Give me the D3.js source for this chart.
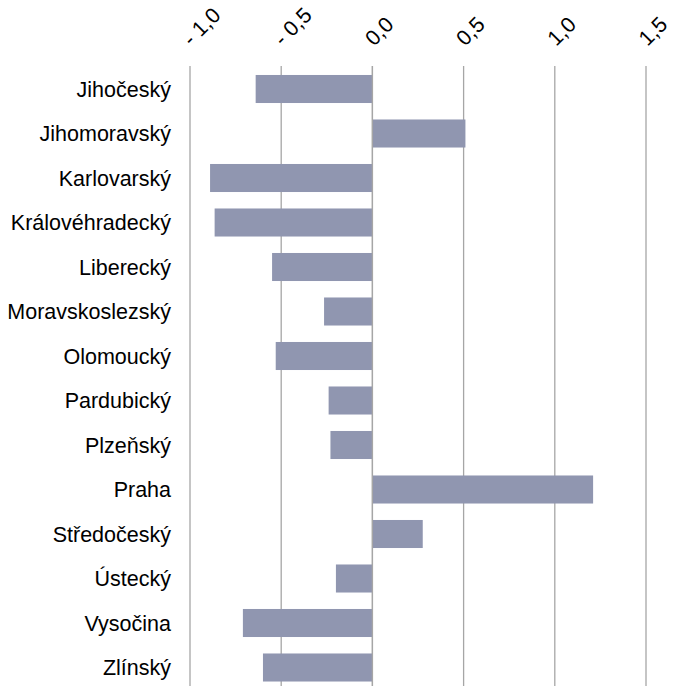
<!DOCTYPE html>
<html>
<head>
<meta charset="utf-8">
<script src="https://cdn.jsdelivr.net/npm/d3@7"></script>
<style>
  html, body { margin: 0; padding: 0; background: #fff; }
  svg { display: block; }
</style>
</head>
<body>
<svg id="chart" width="673" height="686"></svg>
<script>
const regions = ["Jihočeský", "Jihomoravský", "Karlovarský", "Královéhradecký", "Liberecký",
  "Moravskoslezský", "Olomoucký", "Pardubický", "Plzeňský", "Praha", "Středočeský",
  "Ústecký", "Vysočina", "Zlínský"];
const values = [-0.64, 0.51, -0.89, -0.865, -0.55, -0.265, -0.53, -0.24, -0.23, 1.21, 0.276,
  -0.20, -0.71, -0.60];
const tickValues = [-1.0, -0.5, 0.0, 0.5, 1.0, 1.5];
const tickLabels = ["- 1,0", "- 0,5", "0,0", "0,5", "1,0", "1,5"];

const svg = d3.select("#chart");
const font = "'Liberation Sans', Arial, sans-serif";
const fontSize = 21.5;

const x = d3.scaleLinear().domain([-1.0, 1.5]).range([190, 646]);
const y = d3.scaleBand().domain(regions).range([66.75, 689.75]).paddingInner(0.37).paddingOuter(0.185);

// vertical gridlines
svg.append("g").selectAll("line").data(tickValues).join("line")
  .attr("x1", d => x(d)).attr("x2", d => x(d))
  .attr("y1", 66).attr("y2", 686)
  .attr("stroke", "#a6a6a6").attr("stroke-width", 1.3);

// bars
svg.append("g").selectAll("rect").data(values).join("rect")
  .attr("x", d => x(Math.min(0, d)))
  .attr("width", d => Math.abs(x(d) - x(0)))
  .attr("y", (d, i) => y(regions[i]))
  .attr("height", y.bandwidth())
  .attr("fill", "#9096b0");

// zero line over bars
svg.append("line")
  .attr("x1", x(0)).attr("x2", x(0)).attr("y1", 66).attr("y2", 686)
  .attr("stroke", "#a6a6a6").attr("stroke-width", 1.3);

// rotated tick labels along the top
svg.append("g").selectAll("text").data(tickValues).join("text")
  .attr("transform", d => `translate(${x(d) + 1.5},47) rotate(-45)`)
  .attr("text-anchor", "start")
  .attr("font-family", font).attr("font-size", fontSize).attr("fill", "#000")
  .attr("xml:space", "preserve")
  .style("white-space", "pre")
  .text((d, i) => tickLabels[i]);

// category labels
svg.append("g").selectAll("text").data(regions).join("text")
  .attr("x", 171)
  .attr("y", d => y(d) + y.bandwidth() / 2)
  .attr("dy", "0.35em")
  .attr("text-anchor", "end")
  .attr("font-family", font).attr("font-size", fontSize).attr("fill", "#000")
  .text(d => d);
</script>
</body>
</html>
